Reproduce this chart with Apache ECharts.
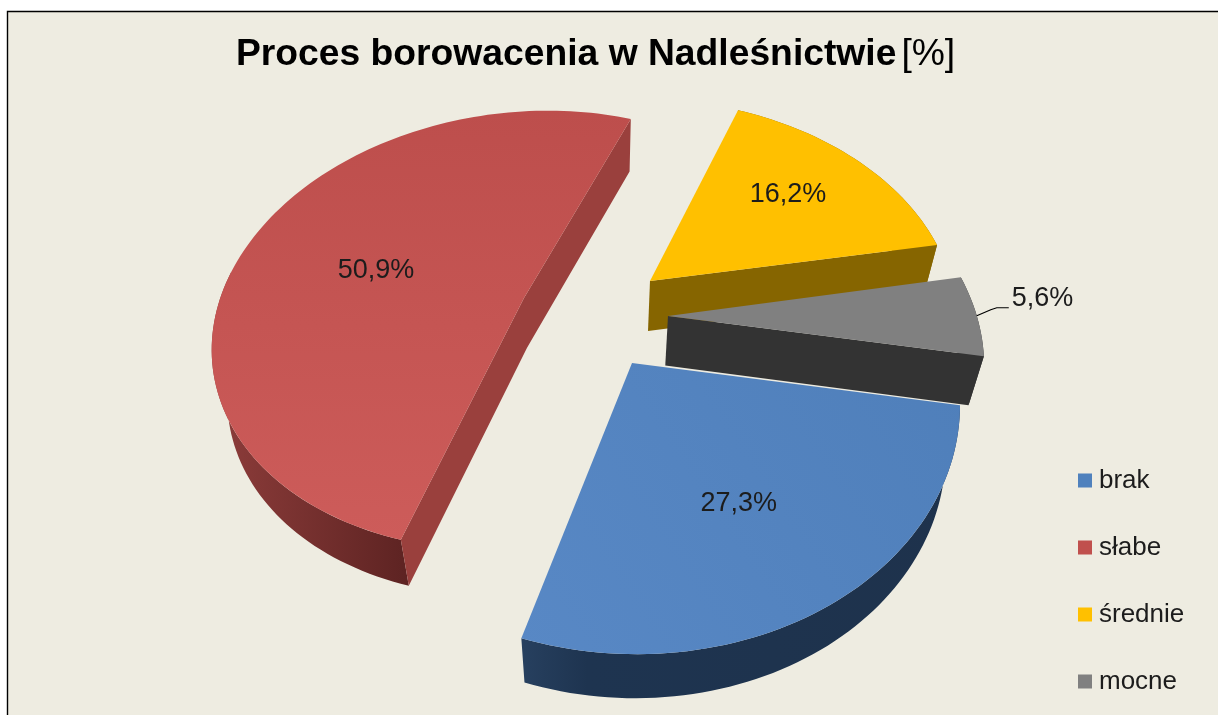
<!DOCTYPE html>
<html><head><meta charset="utf-8">
<style>html,body{margin:0;padding:0;background:#fff}#c{width:1218px;height:715px}</style>
<script src="https://cdn.jsdelivr.net/npm/echarts@6/dist/echarts.min.js"></script>
</head><body><div id="c"></div>
<script>
var categories = ['brak', 'słabe', 'średnie', 'mocne'];
var percentValues = [27.3, 50.9, 16.2, 5.6];
var percentLabels = ['27,3%', '50,9%', '16,2%', '5,6%'];
var titleBold = 'Proces borowacenia w Nadleśnictwie';
var titleNormal = '[%]';

// Presentation: colours and the projection of each exploded slice.
var FIRST_SLICE_DEG = 8, PERSPECTIVE = 0.148, FONT = '"Liberation Sans", Arial, sans-serif';
var slicePaint = [
  {color:'#4F81BD', face:['#4f7fba','#5888c5'], faceDir:[1,0,0,1], cut:null, wall:[[0,'#27405f'],[0.15,'#1e3450'],[1,'#1e324c']]},
  {color:'#C0504D', face:['#bd4e4c','#cd5c5a'], faceDir:[0,0,0,1], cut:'#9a403d', wall:[[0,'#8e3d3b'],[1,'#5d2322']]},
  {color:'#FFC000', face:['#FFC000','#FFC000'], faceDir:[0,0,0,1], cut:'#866500', wall:[[0,'#866500'],[1,'#866500']]},
  {color:'#808080', face:['#808080','#808080'], faceDir:[0,0,0,1], cut:'#333333', wall:[[0,'#333333'],[1,'#333333']]}
];
var sliceGeom = [
  {cx:632, cy:363, a:325, bx:-4,  ay:7, by:248, lu:0.31,  lv:0.515},
  {cx:524, cy:298, a:305, bx:-21, ay:-4, by:215, lu:-0.505, lv:-0.14},
  {cx:650, cy:281, a:303, bx:1,   ay:7, by:209, lu:0.488, lv:-0.46},
  {cx:668, cy:316, a:311, bx:10,  ay:8, by:227, lu:null,  lv:null}
];
var drawOrder = [2, 3, 1, 0];

function project(g, u, v) {
  var w = 1 - PERSPECTIVE * v;
  return [g.cx + (g.a * u + g.bx * v) / w, g.cy + (g.ay * u + g.by * v) / w];
}
function lower(p) { // the same point on the underside of the pie
  return [600 + (p[0] - 600) * 0.96, p[1] + 54.5 - 0.016 * p[1]];
}
function arc(g, from, to) {
  var pts = [], n = Math.max(8, Math.ceil(Math.abs(to - from) / 1.5));
  for (var i = 0; i <= n; i++) {
    var t = (from + (to - from) * i / n) * Math.PI / 180;
    pts.push(project(g, Math.cos(t), Math.sin(t)));
  }
  return pts;
}
function startOf(idx) {
  var sum = 0;
  for (var i = 0; i < idx; i++) sum += percentValues[i];
  return FIRST_SLICE_DEG + sum * 3.6;
}
function poly(points, fill) {
  return {type:'polygon', shape:{points:points}, style:{fill:fill}, silent:true};
}
function hGrad(stops) {
  return {type:'linear', x:0, y:0, x2:1, y2:0, colorStops:stops.map(function (s) { return {offset:s[0], color:s[1]}; })};
}

function makeRender(idx) {
  return function (params, api) {
    var value = api.value(0);
    var from = startOf(idx), to = from + value * 3.6;
    var g = sliceGeom[idx], p = slicePaint[idx];
    var top = arc(g, from, to);
    var c = [g.cx, g.cy], cLow = lower(c);
    var first = top[0], last = top[top.length - 1];
    // outer wall: front part only (the back is hidden by the face)
    var fTo = idx === 1 ? Math.min(to, 188) : to;
    var frontTop = arc(g, from, fTo);
    var wallPts = frontTop.concat(frontTop.map(lower).reverse());
    var d = p.faceDir;
    var kids = [poly(wallPts, hGrad(p.wall))];
    if (idx === 1) {
      kids.push(poly([first, c, last, lower(last), cLow, lower(first)], p.cut));
    } else if (p.cut) {
      kids.push(poly([c, last, lower(last), cLow], p.cut));
    }
    kids.push(poly([c].concat(top), {type:'linear', x:d[0], y:d[1], x2:d[2], y2:d[3],
      colorStops:[{offset:0, color:p.face[0]}, {offset:1, color:p.face[1]}]}));
    if (g.lu !== null) {
      var lp = project(g, g.lu, g.lv);
      kids.push({type:'text', style:{x:lp[0], y:lp[1], text:percentLabels[idx], align:'center', verticalAlign:'middle',
        fill:'#1c1c1c', font:'27px ' + FONT}, silent:true});
    } else {
      var mid = (from + to) / 2 * Math.PI / 180;
      var m = project(g, Math.cos(mid), Math.sin(mid));
      kids.push({type:'polyline', shape:{points:[m, [m[0] + 14, m[1] - 6], [m[0] + 20, m[1] - 8], [m[0] + 32, m[1] - 8]]},
        style:{stroke:'#000', lineWidth:1.2, fill:null}, silent:true});
      kids.push({type:'text', style:{x:m[0] + 35, y:m[1] - 17, text:percentLabels[idx], align:'left', verticalAlign:'middle',
        fill:'#1c1c1c', font:'27px ' + FONT}, silent:true});
    }
    return {type:'group', children:kids};
  };
}

var series = drawOrder.map(function (idx, order) {
  return {
    name: categories[idx], type:'custom', coordinateSystem:'none', z: order + 2,
    itemStyle:{color:slicePaint[idx].color}, renderItem: makeRender(idx),
    data:[[percentValues[idx]]], silent:true, animation:false
  };
});

var chart = echarts.init(document.getElementById('c'), null, {renderer:'canvas'});
chart.setOption({
  animation:false,
  backgroundColor:'#ffffff',
  graphic:[
    {type:'rect', z:-10, silent:true, shape:{x:7, y:11, width:1211, height:704}, style:{fill:'#EEECE1'}},
    {type:'polyline', z:-9, silent:true, shape:{points:[[7.5,715],[7.5,11.5],[1218,11.5]]}, style:{stroke:'#000', lineWidth:1.4, fill:null}}
  ],
  title:{
    text:'{b|' + titleBold + '} {n|' + titleNormal + '}',
    left:231, top:31,
    textStyle:{rich:{
      b:{fontFamily:FONT, fontSize:37.25, fontWeight:'bold', color:'#000'},
      n:{fontFamily:FONT, fontSize:37.25, fontWeight:'normal', color:'#000'}
    }}
  },
  legend:{
    data:categories, orient:'vertical', left:1073, top:462, icon:'rect',
    itemWidth:14, itemHeight:14, itemGap:40, selectedMode:false,
    textStyle:{fontFamily:FONT, fontSize:26, color:'#1c1c1c', padding:[0,0,0,2], lineHeight:27}
  },
  tooltip:{show:false},
  series:series
});
</script></body></html>
